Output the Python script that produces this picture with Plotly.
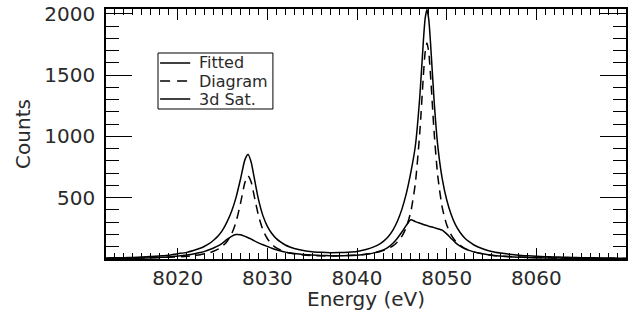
import plotly.graph_objects as go

energy = [8012, 8013, 8014, 8015, 8016, 8017, 8018, 8019, 8020, 8021,
          8022, 8022.5, 8023, 8023.5, 8024, 8024.5, 8025, 8025.5, 8026, 8026.5,
          8027, 8027.5, 8027.85, 8028.2, 8028.5, 8029, 8029.5, 8030, 8030.5, 8031,
          8031.5, 8032, 8032.5, 8033, 8034, 8035, 8036, 8037, 8038, 8039,
          8040, 8041, 8042, 8042.5, 8043, 8043.5, 8044, 8044.5, 8045, 8045.5,
          8046, 8046.5, 8047, 8047.4, 8047.6, 8047.8, 8048.0, 8048.2, 8048.6, 8049,
          8049.5, 8050, 8050.5, 8051, 8051.5, 8052, 8052.5, 8053, 8054, 8055,
          8056, 8057, 8058, 8059, 8060, 8061, 8062, 8063, 8064, 8065,
          8066, 8067, 8068, 8069, 8070]

fitted = [8, 10, 11, 13, 16, 20, 25, 31, 43, 54,
          75, 88, 104, 125, 153, 187, 235, 303, 388, 501,
          651, 811, 852, 788, 676, 488, 354, 267, 208, 166,
          137, 114, 98, 86, 70, 60, 55, 52, 53, 56,
          62, 77, 103, 122, 148, 183, 235, 308, 405, 535,
          706, 920, 1324, 1780, 1965, 2035, 1955, 1761, 1288, 927,
          656, 484, 364, 276, 216, 172, 141, 116, 84, 62,
          49, 39, 31, 26, 22, 19, 17, 15, 13, 11,
          11, 9, 9, 7, 7]

diagram = [5, 6, 6, 7, 8, 10, 12, 14, 18, 22,
           30, 35, 42, 50, 63, 80, 105, 143, 203, 301,
           453, 626, 679, 626, 526, 356, 238, 165, 120, 91,
           72, 58, 49, 42, 33, 28, 26, 25, 26, 28,
           32, 39, 51, 59, 71, 86, 107, 138, 185, 260,
           386, 615, 1032, 1498, 1688, 1762, 1687, 1497, 1032, 680,
           421, 279, 196, 144, 111, 87, 71, 58, 42, 31,
           25, 20, 16, 14, 12, 10, 9, 8, 7, 6,
           6, 5, 5, 4, 4]

satellite = [3, 4, 5, 6, 8, 10, 13, 17, 25, 32,
             45, 53, 62, 75, 90, 107, 130, 160, 185, 200,
             198, 185, 173, 162, 150, 132, 116, 102, 88, 75,
             65, 56, 49, 44, 37, 32, 29, 27, 27, 28,
             30, 38, 52, 63, 77, 97, 128, 170, 220, 275,
             320, 305, 292, 282, 277, 273, 268, 264, 256, 247,
             235, 205, 168, 132, 105, 85, 70, 58, 42, 31,
             24, 19, 15, 12, 10, 9, 8, 7, 6, 5,
             5, 4, 4, 3, 3]

x_ticks = [8020, 8030, 8040, 8050, 8060]
y_ticks = [500, 1000, 1500, 2000]
series_names = ["Fitted", "Diagram", "3d Sat."]
series_dash = ["solid", "9px,6px", "solid"]
x_title = "Energy (eV)"
y_title = "Counts"

FONT = "DejaVu Sans"
TXT = "#2a2a2a"

fig = go.Figure()
for name, yvals, dash in zip(series_names, [fitted, diagram, satellite], series_dash):
    fig.add_trace(go.Scatter(x=energy, y=yvals, name=name, mode="lines", showlegend=False,
                             line=dict(color="black", width=1.5, dash=dash,
                                       shape="spline", smoothing=0.6)))

# legend box drawn in plot-area (paper) coordinates
leg_x0, leg_x1, leg_y0, leg_y1 = 0.1, 0.321, 0.6, 0.824
fig.add_shape(type="rect", xref="paper", yref="paper",
              x0=leg_x0, x1=leg_x1, y0=leg_y0, y1=leg_y1,
              line=dict(color="black", width=1), fillcolor="white", layer="above")
row_y = [0.784, 0.712, 0.64]
for name, dash, ry in zip(series_names, series_dash, row_y):
    fig.add_shape(type="line", xref="paper", yref="paper",
                  x0=0.104, x1=0.162, y0=ry, y1=ry,
                  line=dict(color="black", width=1.5,
                            dash=("10px,7px" if dash != "solid" else "solid")),
                  layer="above")
    fig.add_annotation(xref="paper", yref="paper", x=0.175, y=ry,
                       xanchor="left", yanchor="middle", text=name, showarrow=False,
                       font=dict(family=FONT, size=16, color=TXT))

# x-axis title
fig.add_annotation(xref="paper", yref="paper", x=0.5, y=-0.158,
                   xanchor="center", yanchor="middle", text=x_title, showarrow=False,
                   font=dict(family=FONT, size=20, color=TXT))

# plot area at page pixels x 106..626, y 9..259 (page body margin removed below)
fig.update_layout(
    width=635, height=327,
    margin=dict(l=106, r=9, t=9, b=68, autoexpand=False),
    paper_bgcolor="white", plot_bgcolor="white",
    font=dict(family=FONT, size=20, color=TXT),
    showlegend=False,
    hovermode=False,
)

fig.update_xaxes(
    range=[8012, 8070], autorange=False, automargin=False,
    tickvals=x_ticks, ticktext=[str(v) for v in x_ticks],
    ticks="inside", ticklen=11, tickwidth=1.2, tickcolor="black",
    minor=dict(ticks="inside", dtick=1, ticklen=6, tickwidth=1.2, tickcolor="black"),
    showline=True, linecolor="black", linewidth=1.5, mirror="allticks",
    showgrid=False, zeroline=False,
    ticklabelstandoff=0, ticklabeloverflow="allow",
    tickfont=dict(family=FONT, size=20, color=TXT),
)
fig.update_yaxes(
    range=[0, 2040], autorange=False, automargin=False,
    tickvals=y_ticks, ticktext=[str(v) for v in y_ticks],
    ticks="inside", ticklen=26, tickwidth=1.2, tickcolor="black",
    minor=dict(ticks="inside", dtick=100, ticklen=13, tickwidth=1.2, tickcolor="black"),
    showline=True, linecolor="black", linewidth=1.5, mirror="allticks",
    showgrid=False, zeroline=False,
    ticklabelstandoff=5, ticklabeloverflow="allow",
    tickfont=dict(family=FONT, size=20, color=TXT),
    title=dict(text=y_title, font=dict(family=FONT, size=20, color=TXT), standoff=8),
)

fig.write_html("out.html",
               config={"displayModeBar": False},
               post_script="document.body.style.margin='0';"
                           "document.body.style.overflow='hidden';")
